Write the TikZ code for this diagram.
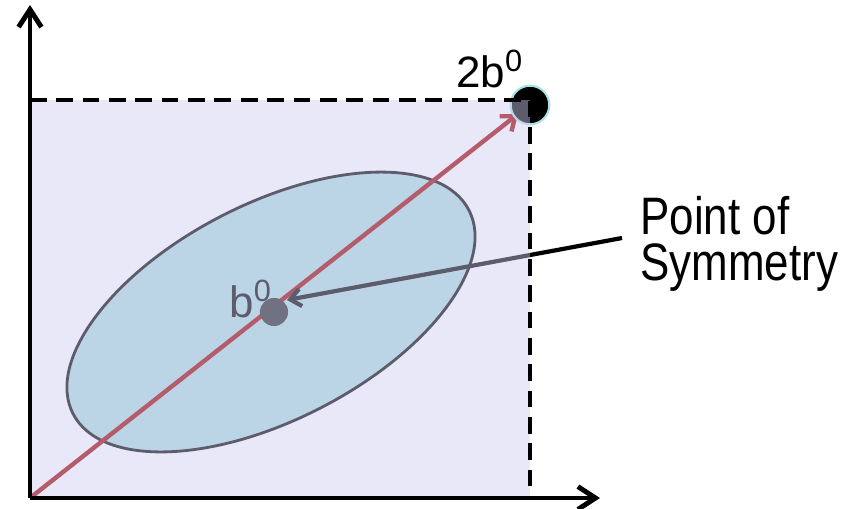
\documentclass[tikz,border=0pt]{standalone}
\usepackage{fontspec}
\setmainfont{Liberation Sans}
\usepackage{graphicx}
\usetikzlibrary{arrows.meta,positioning}

\definecolor{lavender}{RGB}{205,205,240}
\definecolor{cloudblue}{RGB}{175,220,222}
\definecolor{arrowred}{RGB}{160,0,0}
\definecolor{rimcyan}{RGB}{170,225,228}

\begin{document}
\begin{tikzpicture}[
    x=0.02cm, y=-0.02cm,
    axis/.style={-{Straight Barb[length=10pt,width=13pt]}, line width=2.8pt, line join=round},
    region/.style={draw=black, line width=2.2pt, dash pattern=on 9.5pt off 5.5pt},
    cloud/.style={fill=cloudblue, draw=black, line width=1.6pt},
    diag/.style={-{Straight Barb[length=7pt,width=11pt]}, draw=arrowred, line width=2.5pt},
    pointer/.style={-{Straight Barb[length=6pt,width=10pt]}, line width=2.4pt},
    dot/.style={circle, fill=black, inner sep=0pt, minimum size=#1},
    lbl/.style={inner sep=0pt, font={\fontsize{25}{26}\selectfont\lineskiplimit=-20pt\relax}}
]
\useasboundingbox (0,0) rectangle (852,508);

% Corners
\coordinate (origin) at (30,498);
\coordinate (ytip) at (30,5);
\coordinate (xtip) at (600,498);
\coordinate (corner) at (530,100);
\coordinate (ctr) at (271,312);

% Ellipse and diagonal
\draw[cloud, rotate around={27.2:(ctr)}] (ctr) ellipse [x radius=222.6, y radius=108];
\coordinate (dtip) at (518,114);
\draw[diag] (origin) -- (dtip);

% Points
\node[dot=22pt, draw=rimcyan, line width=1.2pt] (top) at (530,105) {};
\node[dot=16pt, fill=black!85] (mid) at (274,312) {};
\node[lbl, anchor=base west] (midlabel) at (229,317) {b\textsuperscript{0}};

% Pointer to the centre
\node[lbl, align=left, anchor=north west] (sym) at (640,196)
    {\scalebox{1}[1.2]{Point of}\\\scalebox{1}[1.2]{Symmetry}};
\coordinate (pstart) at (622,238);
\coordinate (ptip) at (287,300);
\draw[pointer] (pstart) -- (ptip);

% Shaded region
\fill[lavender, opacity=0.45] (origin) rectangle (corner);
\draw[region] (origin |- corner) -- (corner) -- (corner |- origin);

% Axes
\draw[axis] (origin) -- (ytip);
\draw[axis] (origin) -- (xtip);

\node[lbl, anchor=base west] (toplabel) at (456,87) {2b\textsuperscript{0}};

\end{tikzpicture}
\end{document}
